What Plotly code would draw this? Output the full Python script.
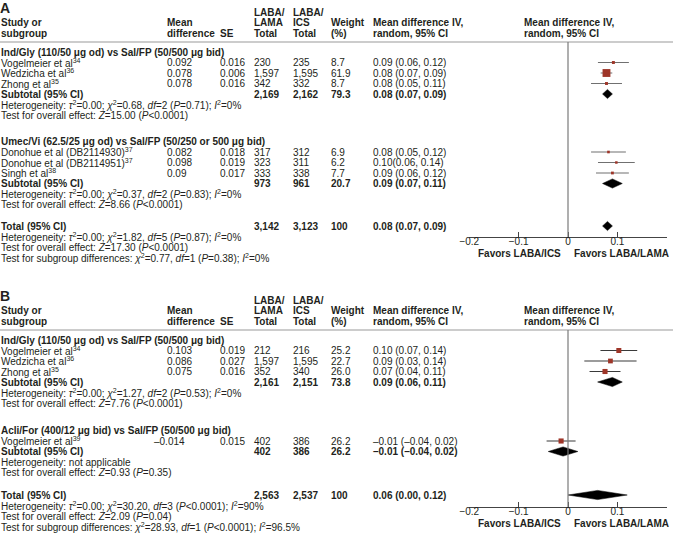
import plotly.graph_objects as go

FONT = "Liberation Sans, Arial, Helvetica, sans-serif"
TXT = "#231f20"
W, H = 673, 537

# ---------------- Panel A data ----------------
A1_title = "Ind/Gly (110/50 μg od) vs Sal/FP (50/500 μg bid)"
A1_study = ["Vogelmeier et al", "Wedzicha et al", "Zhong et al"]
A1_ref = ["34", "36", "35"]
A1_md = [0.092, 0.078, 0.078]
A1_se = [0.016, 0.006, 0.016]
A1_n_lama = [230, 1597, 342]
A1_n_ics = [235, 1595, 332]
A1_weight = [8.7, 61.9, 8.7]
A1_ci = ["0.09 (0.06, 0.12)", "0.08 (0.07, 0.09)", "0.08 (0.05, 0.11)"]
A1_sub_n = [2169, 2162]
A1_sub_weight = 79.3
A1_sub_ci = [0.08, 0.07, 0.09]
A1_het = "Heterogeneity: <i>τ</i><sup>2</sup>=0.00; <i>χ</i><sup>2</sup>=0.68, <i>df</i>=2 (<i>P</i>=0.71); <i>I</i><sup>2</sup>=0%"
A1_z = "Test for overall effect: <i>Z</i>=15.00 (<i>P</i>&lt;0.0001)"

A2_title = "Umec/Vi (62.5/25 μg od) vs Sal/FP (50/250 or 500 μg bid)"
A2_study = ["Donohue et al (DB2114930)", "Donohue et al (DB2114951)", "Singh et al"]
A2_ref = ["37", "37", "38"]
A2_md = [0.082, 0.098, 0.09]
A2_se = [0.018, 0.019, 0.017]
A2_n_lama = [317, 323, 333]
A2_n_ics = [312, 311, 338]
A2_weight = [6.9, 6.2, 7.7]
A2_ci = ["0.08 (0.05, 0.12)", "0.10(0.06, 0.14)", "0.09 (0.06, 0.12)"]
A2_sub_n = [973, 961]
A2_sub_weight = 20.7
A2_sub_ci = [0.09, 0.07, 0.11]
A2_het = "Heterogeneity: <i>τ</i><sup>2</sup>=0.00; <i>χ</i><sup>2</sup>=0.37, <i>df</i>=2 (<i>P</i>=0.83); <i>I</i><sup>2</sup>=0%"
A2_z = "Test for overall effect: <i>Z</i>=8.66 (<i>P</i>&lt;0.0001)"

A_tot_n = [3142, 3123]
A_tot_weight = 100
A_tot_ci = [0.08, 0.07, 0.09]
A_tot_het = "Heterogeneity: <i>τ</i><sup>2</sup>=0.00; <i>χ</i><sup>2</sup>=1.82, <i>df</i>=5 (<i>P</i>=0.87); <i>I</i><sup>2</sup>=0%"
A_tot_z = "Test for overall effect: <i>Z</i>=17.30 (<i>P</i>&lt;0.0001)"
A_tot_sub = "Test for subgroup differences: <i>χ</i><sup>2</sup>=0.77, <i>df</i>=1 (<i>P</i>=0.38); <i>I</i><sup>2</sup>=0%"

# ---------------- Panel B data ----------------
B1_title = "Ind/Gly (110/50 μg od) vs Sal/FP (50/500 μg bid)"
B1_study = ["Vogelmeier et al", "Wedzicha et al", "Zhong et al"]
B1_ref = ["34", "36", "35"]
B1_md = [0.103, 0.086, 0.075]
B1_se = [0.019, 0.027, 0.016]
B1_n_lama = [212, 1597, 352]
B1_n_ics = [216, 1595, 340]
B1_weight = [25.2, 22.7, 26.0]
B1_ci = ["0.10 (0.07, 0.14)", "0.09 (0.03, 0.14)", "0.07 (0.04, 0.11)"]
B1_sub_n = [2161, 2151]
B1_sub_weight = 73.8
B1_sub_ci = [0.09, 0.06, 0.11]
B1_het = "Heterogeneity: <i>τ</i><sup>2</sup>=0.00; <i>χ</i><sup>2</sup>=1.27, <i>df</i>=2 (<i>P</i>=0.53); <i>I</i><sup>2</sup>=0%"
B1_z = "Test for overall effect: <i>Z</i>=7.76 (<i>P</i>&lt;0.0001)"

B2_title = "Acli/For (400/12 μg bid) vs Sal/FP (50/500 μg bid)"
B2_study = ["Vogelmeier et al"]
B2_ref = ["39"]
B2_md = [-0.014]
B2_se = [0.015]
B2_n_lama = [402]
B2_n_ics = [386]
B2_weight = [26.2]
B2_ci = ["–0.01 (–0.04, 0.02)"]
B2_sub_n = [402, 386]
B2_sub_weight = 26.2
B2_sub_ci = [-0.01, -0.04, 0.02]
B2_het = "Heterogeneity: not applicable"
B2_z = "Test for overall effect: <i>Z</i>=0.93 (<i>P</i>=0.35)"

B_tot_n = [2563, 2537]
B_tot_weight = 100
B_tot_ci = [0.06, 0.00, 0.12]
B_tot_het = "Heterogeneity: <i>τ</i><sup>2</sup>=0.00; <i>χ</i><sup>2</sup>=30.20, <i>df</i>=3 (<i>P</i>&lt;0.0001); <i>I</i><sup>2</sup>=90%"
B_tot_z = "Test for overall effect: <i>Z</i>=2.09 (<i>P</i>=0.04)"
B_tot_sub = "Test for subgroup differences: <i>χ</i><sup>2</sup>=28.93, <i>df</i>=1 (<i>P</i>&lt;0.0001); <i>I</i><sup>2</sup>=96.5%"

AXIS_TICKS = [-0.2, -0.1, 0, 0.1, 0.2]
FAVORS = ["Favors LABA/ICS", "Favors LABA/LAMA"]

# ---------------- layout constants (pixels) ----------------
COL_STUDY, COL_MD, COL_SE, COL_N1, COL_N2, COL_W, COL_CI, COL_PH = 1, 167, 220, 254, 293, 331, 373, 524
R = 10.5
PLOT_X0, PLOT_X1 = 469.3, 666.7
SQ_COLOR = "#9e3528"
DIAMOND_H = 4.6

fig = go.Figure()
anns = []
shapes = []


def dash(s):
    return s.replace("-", "–")


def txt(x, y, s, bold=False, size=10, anchor="left"):
    if bold:
        s = "<b>" + s + "</b>"
    anns.append(dict(x=x / W, y=y, xref="paper", yref="y", text=s, showarrow=False,
                     xanchor=anchor, yanchor="middle", align=anchor, borderpad=0, borderwidth=0,
                     font=dict(size=size, color=TXT, family=FONT)))


def fmt_ci(c):
    return dash(f"{c[0]:.2f} ({c[1]:.2f}, {c[2]:.2f})")


def diamond(xa, y, c):
    fig.add_trace(go.Scatter(x=[c[1], c[0], c[2], c[0], c[1]],
                             y=[y, y - DIAMOND_H, y, y + DIAMOND_H, y],
                             xaxis=xa, yaxis="y", mode="lines", fill="toself",
                             fillcolor="black", line=dict(color="black", width=0.5),
                             hoverinfo="skip", showlegend=False))


def header(line_y, letter):
    txt(0, line_y - 34.5, letter, bold=True, size=14)
    txt(COL_N1, line_y - 30, "LABA/", bold=True)
    txt(COL_N2, line_y - 30, "LABA/", bold=True)
    for x, s in [(COL_STUDY, "Study or"), (COL_MD, "Mean"), (COL_N1, "LAMA"), (COL_N2, "ICS"),
                 (COL_W, "Weight"), (COL_CI, "Mean difference IV,"), (COL_PH, "Mean difference IV,")]:
        txt(x, line_y - 20, s, bold=True)
    for x, s in [(COL_STUDY, "subgroup"), (COL_MD, "difference"), (COL_SE, "SE"), (COL_N1, "Total"),
                 (COL_N2, "Total"), (COL_W, "(%)"), (COL_CI, "random, 95% CI"), (COL_PH, "random, 95% CI")]:
        txt(x, line_y - 9, s, bold=True)
    shapes.append(dict(type="line", xref="paper", yref="y", x0=0, x1=1, y0=line_y, y1=line_y,
                       line=dict(color="#9a9a9a", width=1.2)))


def group(xa, y0, title, study, ref, md, se, n1, n2, w, ci, sub_n, sub_w, sub_ci, het, z, ci_color):
    txt(COL_STUDY, y0, title, bold=True)
    ys = []
    for i in range(len(study)):
        y = y0 + (i + 1) * R
        ys.append(y)
        txt(COL_STUDY, y, f"{study[i]}<sup>{ref[i]}</sup>")
        txt(COL_MD if md[i] >= 0 else COL_MD - 13, y, dash(str(md[i])))
        txt(COL_SE, y, f"{se[i]:.3f}")
        txt(COL_N1, y, f"{n1[i]:,}")
        txt(COL_N2, y, f"{n2[i]:,}")
        txt(COL_W, y, f"{w[i]:.1f}")
        txt(COL_CI, y, ci[i])
    fig.add_trace(go.Scatter(
        x=md, y=ys, xaxis=xa, yaxis="y", mode="markers",
        marker=dict(symbol="square", size=[v ** 0.5 for v in w], color=SQ_COLOR,
                    opacity=1, line=dict(width=0)),
        error_x=dict(type="data", array=[1.96 * s for s in se], color=ci_color, thickness=1.2, width=0),
        hoverinfo="skip", showlegend=False, cliponaxis=False))
    ys_sub = y0 + (len(study) + 1) * R
    txt(COL_STUDY, ys_sub, "Subtotal (95% CI)", bold=True)
    txt(COL_N1, ys_sub, f"{sub_n[0]:,}", bold=True)
    txt(COL_N2, ys_sub, f"{sub_n[1]:,}", bold=True)
    txt(COL_W, ys_sub, f"{sub_w:.1f}", bold=True)
    txt(COL_CI, ys_sub, fmt_ci(sub_ci), bold=True)
    diamond(xa, ys_sub, sub_ci)
    txt(COL_STUDY, ys_sub + R, het)
    txt(COL_STUDY, ys_sub + 2 * R, z)


def total(xa, y, n, w, c, het, z, sub):
    txt(COL_STUDY, y, "Total (95% CI)", bold=True)
    txt(COL_N1, y, f"{n[0]:,}", bold=True)
    txt(COL_N2, y, f"{n[1]:,}", bold=True)
    txt(COL_W, y, f"{w}", bold=True)
    txt(COL_CI, y, fmt_ci(c), bold=True)
    diamond(xa, y, c)
    txt(COL_STUDY, y + R, het)
    txt(COL_STUDY, y + 2 * R, z)
    txt(COL_STUDY, y + 3 * R, sub)


# Panel A
A_LINE, A_AXIS = 42, 237
header(A_LINE, "A")
group("x", 52, A1_title, A1_study, A1_ref, A1_md, A1_se, A1_n_lama, A1_n_ics, A1_weight, A1_ci,
      A1_sub_n, A1_sub_weight, A1_sub_ci, A1_het, A1_z, "#707070")
group("x", 141.5, A2_title, A2_study, A2_ref, A2_md, A2_se, A2_n_lama, A2_n_ics, A2_weight, A2_ci,
      A2_sub_n, A2_sub_weight, A2_sub_ci, A2_het, A2_z, "#707070")
total("x", 226, A_tot_n, A_tot_weight, A_tot_ci, A_tot_het, A_tot_z, A_tot_sub)

# Panel B
B_LINE, B_AXIS = 330, 507
header(B_LINE, "B")
group("x2", 340, B1_title, B1_study, B1_ref, B1_md, B1_se, B1_n_lama, B1_n_ics, B1_weight, B1_ci,
      B1_sub_n, B1_sub_weight, B1_sub_ci, B1_het, B1_z, "#3a3a3a")
group("x2", 430.5, B2_title, B2_study, B2_ref, B2_md, B2_se, B2_n_lama, B2_n_ics, B2_weight, B2_ci,
      B2_sub_n, B2_sub_weight, B2_sub_ci, B2_het, B2_z, "#3a3a3a")
total("x2", 495, B_tot_n, B_tot_weight, B_tot_ci, B_tot_het, B_tot_z, B_tot_sub)

# zero lines and favors labels
for xref, ly, ay in [("x", A_LINE, A_AXIS), ("x2", B_LINE, B_AXIS)]:
    shapes.append(dict(type="line", xref=xref, yref="y", x0=0, x1=0, y0=ly, y1=ay,
                       line=dict(color="#7a7a7a", width=1.2)))
    txt(561, ay + 16, FAVORS[0], bold=True, anchor="right")
    txt(574, ay + 16, FAVORS[1], bold=True)

xa_common = dict(domain=[PLOT_X0 / W, PLOT_X1 / W], range=[-0.2, 0.2], anchor="free",
                 tickvals=AXIS_TICKS, ticks="inside", ticklen=5, tickcolor="#444",
                 ticklabelstandoff=-5,
                 showline=True, linecolor="#444", linewidth=1, showgrid=False, zeroline=False,
                 tickfont=dict(size=10, color=TXT, family=FONT), fixedrange=True)

fig.update_layout(
    width=W, height=H, autosize=False,
    margin=dict(l=0, r=0, t=0, b=0, autoexpand=False),
    paper_bgcolor="white", plot_bgcolor="rgba(0,0,0,0)",
    showlegend=False,
    xaxis=dict(position=1 - A_AXIS / H, **xa_common),
    xaxis2=dict(position=1 - B_AXIS / H, **xa_common),
    yaxis=dict(domain=[0, 1], range=[H, 0], visible=False, fixedrange=True),
    annotations=anns,
    shapes=shapes,
    font=dict(family=FONT, color=TXT, size=10),
)

fig.write_html("out.html", config={"displayModeBar": False},
               post_script="document.body.style.margin='0';")
